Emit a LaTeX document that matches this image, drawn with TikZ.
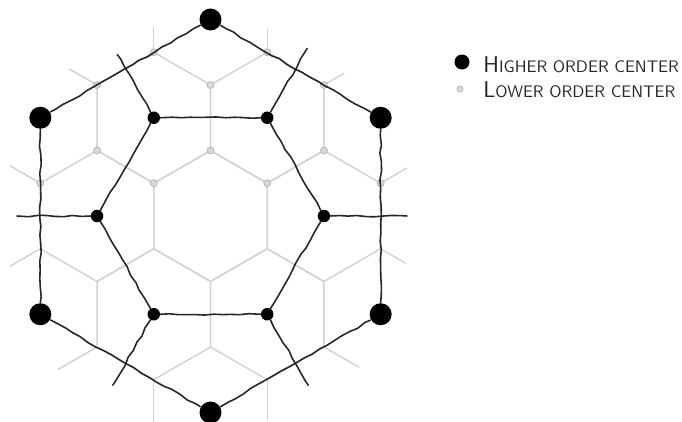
\documentclass[tikz,border=0pt]{standalone}
\usepackage{tikz}
\usetikzlibrary{calc, positioning, decorations.pathmorphing}

\newcommand{\legendcaps}[2]{{\fontsize{13}{13}\selectfont #1}{\fontsize{9.5}{9.5}\selectfont #2}}

\begin{document}
\begin{tikzpicture}[
        hiorder/.style={
            circle,
            fill=black,
            inner sep=0pt,
            minimum size=4.4mm
        },
        midorder/.style={
            circle,
            fill=black,
            inner sep=0pt,
            minimum size=2.5mm
        },
        loorder/.style={
            circle,
            draw=black!30,
            fill=black!15,
            line width=0.4pt,
            inner sep=0pt,
            minimum size=1.4mm
        },
        boundary/.style={
            draw=black!85,
            line width=0.9pt,
            line cap=round,
            line join=round,
            decorate,
            decoration={random steps, segment length=5pt, amplitude=0.5pt}
        },
        market/.style={
            draw=black!18,
            line width=0.8pt,
            line cap=round,
            line join=round
        },
        legend/.style={
            anchor=base west,
            inner sep=0pt,
            font=\sffamily,
            text=black!85
        }
    ]
        \useasboundingbox (0,0) rectangle (13.64,8.42);

        % lattice of market areas
        \def\R{1.31}
        \coordinate (c) at (4.21,4.10);
        \foreach \i in {1,...,6} {
            \coordinate (m\i) at ($(c)+(60*\i:{sqrt(3)*\R})$);
            \coordinate (h\i) at ($(c)+(30+60*\i:{3*\R})$);
        }

        % lower order market areas
        \foreach \p in {c,m1,m2,m3,m4,m5,m6}
            \draw [market] ($(\p)+(30:\R)$) -- ($(\p)+(90:\R)$) -- ($(\p)+(150:\R)$)
                -- ($(\p)+(210:\R)$) -- ($(\p)+(270:\R)$) -- ($(\p)+(330:\R)$) -- cycle;
        \foreach \i/\la/\lb in {1/0.46/0.46, 2/0.50/0.64, 3/0.70/0.70, 4/0.90/0.84, 5/0.80/0.80, 6/0.58/0.60} {
            \draw [market] ($(m\i)+(60*\i-30:\R)$) -- ++(60*\i-30:\la);
            \draw [market] ($(m\i)+(60*\i+30:\R)$) -- ++(60*\i+30:\lb);
        }

        % lower order centers
        \foreach \p/\a [count=\k] in {m2/90, m2/150, m2/30, m1/90, m1/30, m2/210, c/90, m1/330, m3/150, c/150, c/30, m6/30}
            \node (lo\k) [loorder] at ($(\p)+(\a:\R)$) {};

        % higher order centers
        \foreach \i/\l in {1/1.60, 2/1.46, 3/1.60, 4/1.64, 5/1.64, 6/1.66} {
            \node (hi\i) [hiorder] at (h\i) {};
            \node (mid\i) [midorder] at (m\i) {};
            \coordinate (end\i) at ($(m\i)+(60*\i:\l)$);
        }

        \foreach \i in {1,...,6} {
            \pgfmathtruncatemacro{\j}{mod(\i,6)+1}
            \draw [boundary] (hi\i) -- (hi\j);
            \draw [boundary] (mid\i) -- (mid\j);
            \draw [boundary] (mid\i) -- (end\i);
        }

        % key
        \node (hikey) [hiorder, minimum size=3mm] at (9.24,7.18) {};
        \node (hitext) [legend] at (9.66,6.96) {\legendcaps{H}{IGHER ORDER CENTER}};
        \node (lokey) [loorder, minimum size=1.2mm] at (9.20,6.64) {};
        \node (lotext) [legend] at (9.66,6.48) {\legendcaps{L}{OWER ORDER CENTER}};
    \end{tikzpicture}
\end{document}
